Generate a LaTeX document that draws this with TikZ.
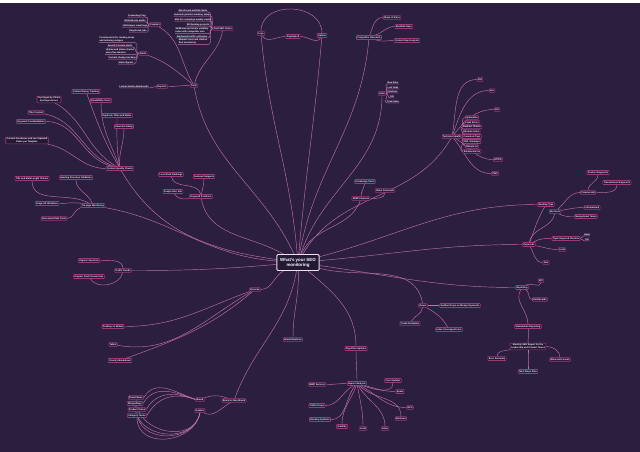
\documentclass[tikz,border=0pt]{standalone}
\usepackage{fontspec}
\setmainfont{Liberation Sans}
\usepackage{tikz}
\usetikzlibrary{positioning, backgrounds}
\usepackage{xcolor}
\definecolor{mapbg}{RGB}{43,30,62}
\definecolor{mapedge}{RGB}{192,112,170}
\definecolor{mapframe}{RGB}{160,56,128}
\definecolor{mapfill}{RGB}{36,25,52}
\newcommand{\mmfont}{\fontsize{2.3}{2.7}\selectfont\bfseries}

\begin{document}
\begin{tikzpicture}[
    x=1pt, y=1pt,
    topicbox/.style={rectangle, draw=mapframe, fill=mapfill, line width=0.6pt, rounded corners=0.6pt, inner sep=0.9pt, text=white, font=\mmfont, align=center},
    leafnote/.style={inner sep=0.4pt, text=white, font=\mmfont, align=left},
    rootbox/.style={rectangle, draw=white!85!mapframe, fill=mapfill, line width=0.9pt, rounded corners=1pt, minimum width=38pt, minimum height=14pt, text=white, font=\fontsize{4.4}{5.2}\selectfont\bfseries, align=center},
    maplink/.style={draw=mapedge, line width=0.45pt}
]
    % root
    \node[rootbox] (c) at (298,-260) {What's your SEO\\monitoring};

    % tools
    \node[topicbox] (tools) at (194,-83) {Tools};
    \node[topicbox] (crawlers) at (155,-22) {Crawlers};
    \node[leafnote] (cr1) at (137,-13) {Screaming Frog};
    \node[leafnote] (cr2) at (135,-18) {Sitebulb site audits};
    \node[leafnote] (cr3) at (135,-23) {JetOctopus crawl logs};
    \node[leafnote] (cr4) at (138,-28) {DeepCrawl jobs};
    \node[topicbox] (alerts) at (143,-51) {Alerts};
    \node[leafnote] (al1) at (117,-37) {Custom alerts for ranking drops\\and indexing outages};
    \node[leafnote] (al2) at (120,-43) {Search Console alerts};
    \node[leafnote] (al3) at (120,-49) {Uptime and status checks\\every five minutes};
    \node[leafnote] (al4) at (122,-55) {Content change tracking};
    \node[leafnote] (al5) at (126,-60) {Slack digests};
    \node[topicbox] (reports) at (162,-84) {Reports};
    \node[leafnote] (rp1) at (134,-84) {Looker Studio dashboards};
    \node[topicbox] (suites) at (223,-26) {Paid SEO Suites};
    \node[leafnote] (ps1) at (193,-8) {Ahrefs rank and link alerts};
    \node[leafnote] (ps2) at (192,-12) {Semrush position tracking setup};
    \node[leafnote] (ps3) at (193,-17) {Moz Pro campaign weekly crawls};
    \node[leafnote] (ps4) at (198,-22) {SE Ranking projects};
    \node[leafnote] (ps5) at (192,-28) {SERPstat and Sistrix visibility\\index with competitor sets};
    \node[leafnote] (ps6) at (192,-34) {Similarweb traffic estimates};
    \node[leafnote] (ps7) at (193,-39) {Majestic trust and citation\\flow monitoring};

    % top middle
    \node[topicbox] (logs) at (261,-31) {Logs};
    \node[topicbox] (speed) at (293,-34) {PageSpeed};
    \node[topicbox] (uptime) at (322,-33) {Uptime};
    \node[topicbox] (compet) at (369,-35) {Competitor Research};
    \node[topicbox] (sov) at (392,-15) {Share of Voice};
    \node[topicbox] (bgap) at (404,-24) {Backlink Gaps};
    \node[topicbox] (cgap) at (407,-38) {Content Gap Analysis};
    \node[topicbox] (links) at (382,-91) {Links};
    \node[leafnote] (ln1) at (393,-80) {New links};
    \node[leafnote] (ln2) at (393,-85) {Lost links};
    \node[leafnote] (ln3) at (393,-89) {Anchors};
    \node[leafnote] (ln4) at (392,-94) {DR};
    \node[leafnote] (ln5) at (393,-99) {Toxic links};

    % technical
    \node[topicbox] (tech) at (452,-134) {Technical Health};
    \node[topicbox] (th1) at (472,-115) {Indexation};
    \node[topicbox] (th2) at (472,-120) {Crawl Errors};
    \node[topicbox] (th3) at (472,-124.5) {Redirect Chains};
    \node[topicbox] (th4) at (472,-129) {Broken Links};
    \node[topicbox] (th5) at (472,-134) {Canonical Tags};
    \node[topicbox] (th6) at (472,-139) {XML Sitemaps};
    \node[topicbox] (th7) at (472,-144) {Robots.txt};
    \node[topicbox] (th8) at (472,-149) {Schema Errors};
    \node[topicbox] (e404) at (480,-77) {404};
    \node[topicbox] (e5xx) at (492,-88) {5xx};
    \node[topicbox] (r301) at (497,-107) {301};
    \node[topicbox] (https) at (498,-157) {HTTPS};
    \node[topicbox] (cwv) at (495,-171) {CWV};

    % content
    \node[topicbox] (content) at (120,-166) {Content Quality Checks};
    \node[topicbox] (decay) at (86,-89) {Content Decay Tracking};
    \node[topicbox] (toppages) at (49,-97) {Top Pages by Clicks\\and Impressions};
    \node[topicbox] (read) at (101,-98) {Readability Score};
    \node[topicbox] (thin) at (36,-110) {Thin Content};
    \node[topicbox] (dup) at (117,-113) {Duplicate Titles and Metas};
    \node[topicbox] (cannib) at (31,-119) {Keyword Cannibalization};
    \node[topicbox] (internal) at (124,-124) {Internal Linking};
    \node[topicbox] (fresh) at (27,-138) {Content Freshness and Last Updated\\Dates per Template};

    % on-page
    \node[topicbox] (onpage) at (93,-203) {On-page Monitoring};
    \node[topicbox] (titles) at (32,-176) {Title and Meta Length Checks};
    \node[topicbox] (headings) at (76,-175) {Heading Structure Validation};
    \node[topicbox] (alt) at (47,-201) {Image Alt Attributes};
    \node[topicbox] (schema) at (54,-216) {Structured Data Tests};

    % traffic
    \node[topicbox] (traffic) at (123,-268) {Traffic Trends};
    \node[topicbox] (sessions) at (89,-258) {Organic Sessions};
    \node[topicbox] (convs) at (89,-274) {Organic Goal Conversions};

    % rankings
    \node[topicbox] (rank) at (201,-194) {Keyword Positions};
    \node[topicbox] (localpack) at (171,-172) {Local Pack Rankings};
    \node[topicbox] (snippets) at (204,-174) {Featured Snippets};
    \node[topicbox] (paa) at (173,-189) {People Also Ask};
    \node[topicbox] (serp) at (361,-196) {SERP Features};
    \node[topicbox] (panel) at (365,-179) {Knowledge Panel};
    \node[topicbox] (video) at (385,-188) {Video Carousels};

    % devices
    \node[topicbox] (aud) at (255,-287) {Devices};
    \node[topicbox] (desktop) at (113,-324) {Desktop vs Mobile};
    \node[topicbox] (tablet) at (113,-342) {Tablet};
    \node[topicbox] (country) at (120,-358) {Country Breakdown};

    % brand
    \node[topicbox] (brand) at (234,-398) {Brand vs Non-Brand};
    \node[topicbox] (brandn) at (200,-397) {Brand};
    \node[topicbox] (generic) at (200,-408) {Generic};
    \node[topicbox] (bl1) at (136,-395) {Brand Name};
    \node[topicbox] (bl2) at (135,-401) {Misspellings};
    \node[topicbox] (bl3) at (137,-407) {Product Terms};
    \node[topicbox] (bl4) at (137,-413) {Category Terms};

    % bottom middle
    \node[topicbox] (mentions) at (293,-337) {Brand Mentions};
    \node[topicbox] (algo) at (356,-346) {Algorithm Updates};
    \node[topicbox] (impact) at (357,-381) {Impact Analysis};
    \node[topicbox] (iu1) at (393,-378) {Core Updates};
    \node[topicbox] (iu2) at (400,-389) {Spam};
    \node[topicbox] (iu3) at (410,-405) {HCU};
    \node[topicbox] (iu4) at (401,-416) {Reviews};
    \node[topicbox] (iu5) at (385,-426) {Links};
    \node[topicbox] (iu6) at (363,-426) {Local};
    \node[topicbox] (iu7) at (342,-424) {Volatility};
    \node[topicbox] (iu8) at (320,-417) {Ranking Systems};
    \node[topicbox] (iu9) at (317,-403) {Traffic Drops};
    \node[topicbox] (iu10) at (317,-382) {SERP Sensors};
    \node[topicbox] (drops) at (423,-303) {Drops};
    \node[topicbox] (sudden) at (460,-303) {Sudden Drops on Money Keywords};
    \node[topicbox] (crawlan) at (410,-321) {Crawl Anomalies};
    \node[topicbox] (indexerr) at (449,-327) {Index Coverage Errors};

    % reporting
    \node[topicbox] (rep) at (522,-285) {Reporting};
    \node[topicbox] (kpi) at (541,-278) {KPI};
    \node[topicbox] (dash) at (540,-297) {Dashboards};
    \node[topicbox] (stake) at (528,-324) {Stakeholder Reporting};
    \node[topicbox] (monthly) at (528,-344) {Monthly SEO Report for the\\Leadership and Product Teams};
    \node[topicbox] (exec) at (497,-356) {Exec Summary};
    \node[topicbox] (wins) at (560,-357) {Wins and Losses};
    \node[topicbox] (next) at (528,-369) {Next Steps Plan};

    % keywords
    \node[topicbox] (kw) at (529,-242) {Keywords};
    \node[topicbox] (rtype) at (546,-202) {Ranking Type};
    \node[topicbox] (intent) at (555,-209) {By Intent};
    \node[topicbox] (clusters) at (566,-236) {Topic Keyword Clusters};
    \node[leafnote] (head) at (587,-232) {Head};
    \node[leafnote] (tail) at (587,-237) {Tail};
    \node[topicbox] (local) at (562,-247) {Local};
    \node[topicbox] (geo) at (546,-260) {Geo};
    \node[topicbox] (commercial) at (588,-190) {Commercial};
    \node[topicbox] (info) at (592,-205) {Informational};
    \node[topicbox] (navig) at (586,-214) {Navigational Terms};
    \node[topicbox] (product) at (598,-170) {Product Keywords};
    \node[topicbox] (trans) at (617,-180) {Transactional Keywords};

    \begin{scope}[on background layer]
    \fill[mapbg] (0,0) rectangle (640,-449);

    % connectors
    \foreach \a/\b/\o/\i in {c/tools/115/-80, c/logs/95/-85, c/uptime/85/-95, c/compet/80/-95,
        c/links/72/-90, c/tech/60/-120, c/serp/68/-110, c/rtype/15/180, c/kw/5/180, c/rep/-8/180,
        c/drops/-15/100, c/algo/-40/90, c/mentions/-88/90, c/brand/-100/70, c/aud/-150/0,
        c/content/172/-60, c/onpage/176/-10, c/traffic/185/0, c/rank/150/-80,
        tools/crawlers/120/-30, tools/alerts/140/-20, tools/reports/180/0, tools/suites/75/-100,
        compet/sov/70/180, compet/bgap/20/180, compet/cgap/-20/180,
        content/decay/120/-70, content/toppages/150/-30, content/read/110/-90, content/thin/160/-10,
        content/dup/100/-90, content/cannib/165/0, content/internal/95/-90, content/fresh/180/-10,
        onpage/titles/150/-90, onpage/headings/110/-90, onpage/alt/170/0, onpage/schema/190/0,
        traffic/sessions/90/0, traffic/convs/-100/-60,
        rank/localpack/100/-80, rank/snippets/80/-90, rank/paa/190/-60,
        serp/panel/90/-100, serp/video/0/-90,
        aud/desktop/200/0, aud/tablet/210/-10, aud/country/220/20,
        brand/brandn/160/20, brand/generic/-150/-30, algo/impact/-90/90,
        impact/iu1/-20/-90, impact/iu2/-15/180, impact/iu3/-30/180, impact/iu4/-45/90,
        impact/iu5/-60/90, impact/iu6/-80/90, impact/iu7/-110/90, impact/iu8/-130/0,
        impact/iu9/-150/0, impact/iu10/180/0,
        drops/crawlan/-100/60, drops/indexerr/-30/120, drops/sudden/0/180,
        rep/kpi/30/-90, rep/dash/-30/180, rep/stake/-120/90, stake/monthly/-80/90,
        monthly/exec/190/90, monthly/wins/0/90, monthly/next/-90/90,
        kw/rtype/70/-120, kw/intent/80/-100, kw/clusters/30/180, kw/local/-10/180, kw/geo/-60/180,
        intent/commercial/40/180, intent/info/10/180, intent/navig/-30/180,
        commercial/product/90/-90, commercial/trans/0/-90,
        tech/e404/80/180, tech/e5xx/70/180, tech/r301/50/180, tech/https/-30/180, tech/cwv/-50/180}
        \draw[maplink] (\a) to[out=\o,in=\i] (\b);

    % text leaves
    \foreach \p/\q in {crawlers/cr1, crawlers/cr2, crawlers/cr3, crawlers/cr4,
        alerts/al1, alerts/al2, alerts/al3, alerts/al4, alerts/al5, reports/rp1,
        suites/ps1, suites/ps2, suites/ps3, suites/ps4, suites/ps5, suites/ps6, suites/ps7}
        \draw[maplink] (\p.west) to[out=180,in=0] (\q.south east) -- (\q.south west);
    \foreach \p/\q in {links/ln1, links/ln2, links/ln3, links/ln4, links/ln5, clusters/head, clusters/tail}
        \draw[maplink] (\p.east) to[out=0,in=180] (\q.south west) -- (\q.south east);
    \foreach \q in {th1,th2,th3,th4,th5,th6,th7,th8}
        \draw[maplink] (tech.east) to[out=0,in=180] (\q.west);

    % top wave
    \draw[maplink] (logs) to[out=-60,in=180] (speed);
    \draw[maplink] (speed) to[out=0,in=-120] (uptime);
    \draw[maplink] (logs) to[out=90,in=90,looseness=1.3] (uptime);

    % brand loops
    \foreach \q in {bl1,bl2,bl3,bl4} {
        \draw[maplink] (\q.east) to[out=60,in=160,looseness=1.1] (brandn.west);
        \draw[maplink] (\q.south) to[out=-90,in=-100,looseness=1.3] (generic.south);
    }
    \end{scope}
\end{tikzpicture}
\end{document}
